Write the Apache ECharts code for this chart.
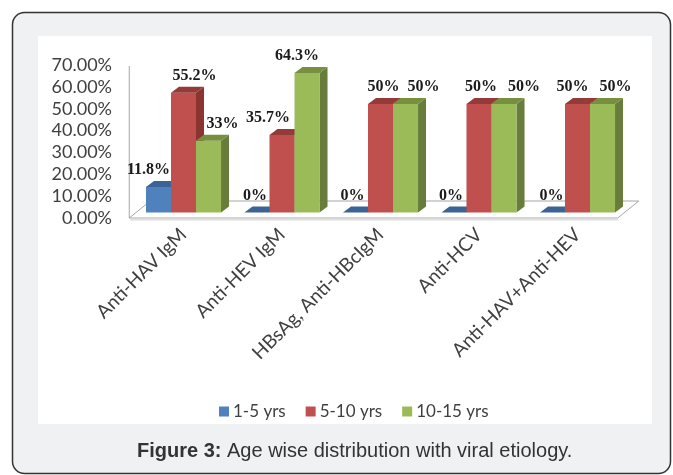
<!DOCTYPE html>
<html><head><meta charset="utf-8">
<script src="https://cdn.jsdelivr.net/npm/echarts@6/dist/echarts.min.js"></script>
<style>html,body{margin:0;padding:0;background:#fff}#c{width:673px;height:475px}</style>
</head><body><div id="c"></div>
<script>
const categories = ['Anti-HAV IgM', 'Anti-HEV IgM', 'HBsAg, Anti-HBcIgM', 'Anti-HCV', 'Anti-HAV+Anti-HEV'];
const seriesNames = ['1-5 yrs', '5-10 yrs', '10-15 yrs'];
const age1to5 = [11.8, 0, 0, 0, 0];
const age5to10 = [55.2, 35.7, 50, 50, 50];
const age10to15 = [33, 64.3, 50, 50, 50];
const yMin = 0, yMax = 70, yStep = 10;

// styling (not data)
const palette = [
  {front: '#4f81bd', side: '#3a6090', top: '#3b6396'},
  {front: '#c0504d', side: '#8b3533', top: '#943b39'},
  {front: '#9bbb59', side: '#687d3b', top: '#77903f'}
];
const labelNudge = [
  [-10, -2, -3, -3, -1],
  [11, -14, 3, 2, -5],
  [14, -10, 18, 20, 13]
];
const allValues = [age1to5, age5to10, age10to15];

function renderBar(params, api) {
  const s = params.seriesIndex - 1;
  const i = api.value(0), v = api.value(1);
  const base = api.coord([i, 0]);
  const top = api.coord([i, v]);
  const band = api.size([1, 0])[0];
  const bw = band * 0.254;
  const d = 8, dz = 6;
  const x0 = base[0] + (s - 1.5) * bw;
  const x1 = x0 + bw;
  const yb = base[1], yt = top[1];
  const c = palette[s];
  const children = [];
  if (v > 0) {
    children.push({type: 'polygon', shape: {points: [[x1, yt], [x1 + d, yt - dz], [x1 + d, yb - dz], [x1, yb]]}, style: {fill: c.side}});
    children.push({type: 'rect', shape: {x: x0, y: yt, width: bw, height: yb - yt}, style: {fill: c.front}});
  }
  children.push({type: 'polygon', shape: {points: [[x0, yt], [x0 + d, yt - dz], [x1 + d, yt - dz], [x1, yt]]}, style: {fill: c.top}});
  children.push({type: 'text', z2: 100, style: {
    text: v + '%', x: (x0 + x1) / 2 + labelNudge[s][i], y: yt - 17,
    align: 'center', verticalAlign: 'middle',
    font: 'bold 16px "Liberation Serif", serif', fill: '#1a1a1a'
  }});
  return {type: 'group', children};
}

function renderFloor(params, api) {
  const cs = params.coordSys;
  const fy = cs.y + cs.height + 5.5;
  const fl = cs.x - 5, fr = cs.x + cs.width - 9;
  const dx = 21, dy = 17;
  return {type: 'group', children: [
    {type: 'polygon', shape: {points: [[fl, fy], [fl + dx, fy - dy], [fr + dx, fy - dy], [fr, fy]]},
      style: {fill: '#ffffff', stroke: '#a6a6a6', lineWidth: 1}},
    {type: 'line', shape: {x1: fl + 1, y1: fy + 1.5, x2: fr, y2: fy + 1.5}, style: {stroke: '#dedede', lineWidth: 2}},
    {type: 'line', shape: {x1: fl, y1: cs.y + 5.5, x2: fl, y2: fy}, style: {stroke: '#a6a6a6', lineWidth: 1}}
  ]};
}

const chart = echarts.init(document.getElementById('c'), null, {renderer: 'canvas'});
const barSeries = allValues.map((vals, s) => ({
  type: 'custom', name: seriesNames[s], xAxisIndex: 0, yAxisIndex: 0, z: 3,
  itemStyle: {color: palette[s].front},
  renderItem: renderBar,
  data: vals.map((v, i) => [i, v])
}));

chart.setOption({
  animation: false,
  graphic: [
    {type: 'rect', z: -10, shape: {x: 12.5, y: 12.5, width: 658, height: 461, r: 12},
      style: {fill: '#f0f1f3', stroke: '#333333', lineWidth: 1.5}},
    {type: 'rect', z: -9, shape: {x: 38, y: 36, width: 614, height: 388}, style: {fill: '#ffffff'}},
    {type: 'text', z: 5, left: 137, top: 441, style: {
      rich: {b: {font: 'bold 20px "Liberation Sans", Arial, sans-serif', fill: '#333333'},
             n: {font: '20px "Liberation Sans", Arial, sans-serif', fill: '#333333'}},
      text: '{b|Figure 3:}{n| Age wise distribution with viral etiology.}'
    }}
  ],
  legend: {
    data: seriesNames, left: 214, top: 398, icon: 'rect', itemWidth: 10, itemHeight: 10, itemGap: 20,
    textStyle: {fontFamily: 'Lato', fontSize: 17, color: '#404040', padding: [0, 0, 0, -1]}
  },
  grid: [
    {left: 134.25, top: 60.5, width: 492.5, height: 152},
    {left: 120, top: 65, width: 10, height: 153}
  ],
  xAxis: [
    {type: 'category', gridIndex: 0, data: categories,
      axisLine: {show: false}, axisTick: {show: false},
      axisLabel: {interval: 0, rotate: 45, margin: 19, fontFamily: 'Lato', fontSize: 19, color: '#404040'}},
    {type: 'value', gridIndex: 1, show: false}
  ],
  yAxis: [
    {type: 'value', gridIndex: 0, min: yMin, max: yMax, interval: yStep, show: false},
    {type: 'value', gridIndex: 1, min: yMin, max: yMax, interval: yStep,
      axisLine: {show: false}, axisTick: {show: false}, splitLine: {show: false},
      axisLabel: {margin: 8, fontFamily: 'Lato', fontSize: 18, color: '#404040', formatter: v => v.toFixed(2) + '%'}}
  ],
  series: [
    {type: 'custom', name: 'floor', xAxisIndex: 0, yAxisIndex: 0, z: 1, silent: true,
      renderItem: renderFloor, data: [[0, 0]]},
    ...barSeries
  ]
});
</script></body></html>
